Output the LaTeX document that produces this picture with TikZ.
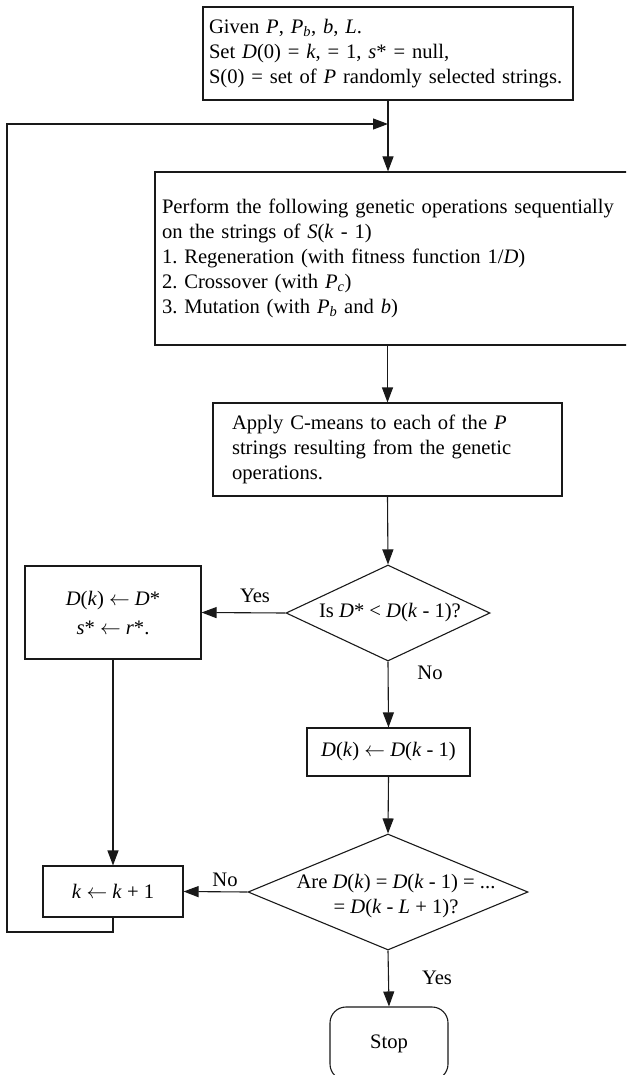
\documentclass[tikz,border=0pt]{standalone}
\usepackage{fontspec}
\setmainfont{Liberation Serif}
\usetikzlibrary{shapes.geometric,arrows.meta}
\newcommand{\getsarrow}{$\leftarrow$}
\begin{document}
\frenchspacing
\begin{tikzpicture}[x=1pt,y=-1pt,
  every node/.style={font=\fontsize{20.6}{25}\selectfont},
  line/.style={draw=black!90, line width=1.1pt},
  flow/.style={line, -{Triangle[length=15pt,width=11pt]}},
  procbox/.style={draw=black!90, line width=1.1pt, rectangle, inner ysep=0pt},
  leftbox/.style={procbox, align=left},
  midbox/.style={procbox, align=center},
  decide/.style={draw=black!90, line width=1.1pt, diamond, inner sep=0pt, aspect=2},
  endbox/.style={procbox, rounded corners=16pt, align=center},
  tag/.style={inner sep=0pt}
]
\clip (0,0) rectangle (626,1075);

% process boxes
\node[leftbox, text width=358pt, inner xsep=6pt, minimum width=370pt, minimum height=93pt]
  (init) at (388,53.5)
  {\mbox{Given \textit{P}, \textit{P}\textsubscript{\textit{b}}, \textit{b}, \textit{L}.}\\
   \mbox{Set \textit{D}(0) = \textit{k}, = 1, \textit{s}* = null,}\\
   \mbox{S(0) = set of \textit{P} randomly selected strings.}};

\node[leftbox, text width=471pt, inner xsep=7pt, minimum width=485pt, minimum height=173pt]
  (genops) at (397.5,258.5)
  {\mbox{Perform the following genetic operations sequentially}\\
   on the strings of \textit{S}(\textit{k} - 1)\\
   1. Regeneration (with fitness function 1/\textit{D})\\
   2. Crossover (with \textit{P}\textsubscript{\textit{c}})\\
   3. Mutation (with \textit{P}\textsubscript{\textit{b}} and \textit{b})};

\node[leftbox, text width=311pt, inner xsep=19pt, minimum width=349pt, minimum height=93pt]
  (cmeans) at (387.5,449.5)
  {Apply C-means to each of the \textit{P}\\
   strings resulting from the genetic\\
   operations.};

% first decision
\node[decide, minimum width=204pt, minimum height=96pt] (better) at (388,613) {};
\node[tag] (bettertxt) at (390,613) {Is \textit{D}* < \textit{D}(\textit{k} - 1)?};

\node[midbox, font=\fontsize{20.6}{29}\selectfont, minimum width=176pt, minimum height=93pt]
  (update) at (113,612.5)
  {\textit{D}(\textit{k}) \getsarrow{} \textit{D}*\\ \textit{s}* \getsarrow{} \textit{r}*.};

\node[midbox, minimum width=163pt, minimum height=48pt]
  (keep) at (388.5,752)
  {\textit{D}(\textit{k}) \getsarrow{} \textit{D}(\textit{k} - 1)};

% second decision
\node[decide, minimum width=280pt, minimum height=116pt] (same) at (388,892) {};
\node[tag, align=center] (sametxt) at (396,896)
  {Are \textit{D}(\textit{k}) = \textit{D}(\textit{k} - 1) = ...\\
   = \textit{D}(\textit{k} - \textit{L} + 1)?};

\node[midbox, minimum width=140pt, minimum height=51pt]
  (incr) at (113,891.5) {\textit{k} \getsarrow{} \textit{k} + 1};

\node[endbox, minimum width=118pt, minimum height=73pt]
  (stop) at (389,1043.5) {Stop};

% branch labels
\node[tag] (yes1) at (255,596) {Yes};
\node[tag] (no1) at (430,673) {No};
\node[tag] (no2) at (225,880) {No};
\node[tag] (yes2) at (437,978) {Yes};

% loop-back corner points
\coordinate (merge) at (388,124);
\coordinate (corner) at (7,932);

% connectors
\draw[flow] (init.south) -- (init.south |- genops.north);
\draw[flow] (genops.south -| cmeans.north) -- (cmeans.north);
\draw[flow] (cmeans.south) -- (better.north);
\draw[flow] (better.west) -- (update.east);
\draw[flow] (better.south) -- (keep.north);
\draw[flow] (keep.south) -- (same.north);
\draw[flow] (same.west) -- (incr.east);
\draw[flow] (update.south) -- (incr.north);
\draw[flow] (same.south) -- (stop.north);
\draw[flow] (incr.south) |- (corner) |- (merge);
\end{tikzpicture}
\end{document}
